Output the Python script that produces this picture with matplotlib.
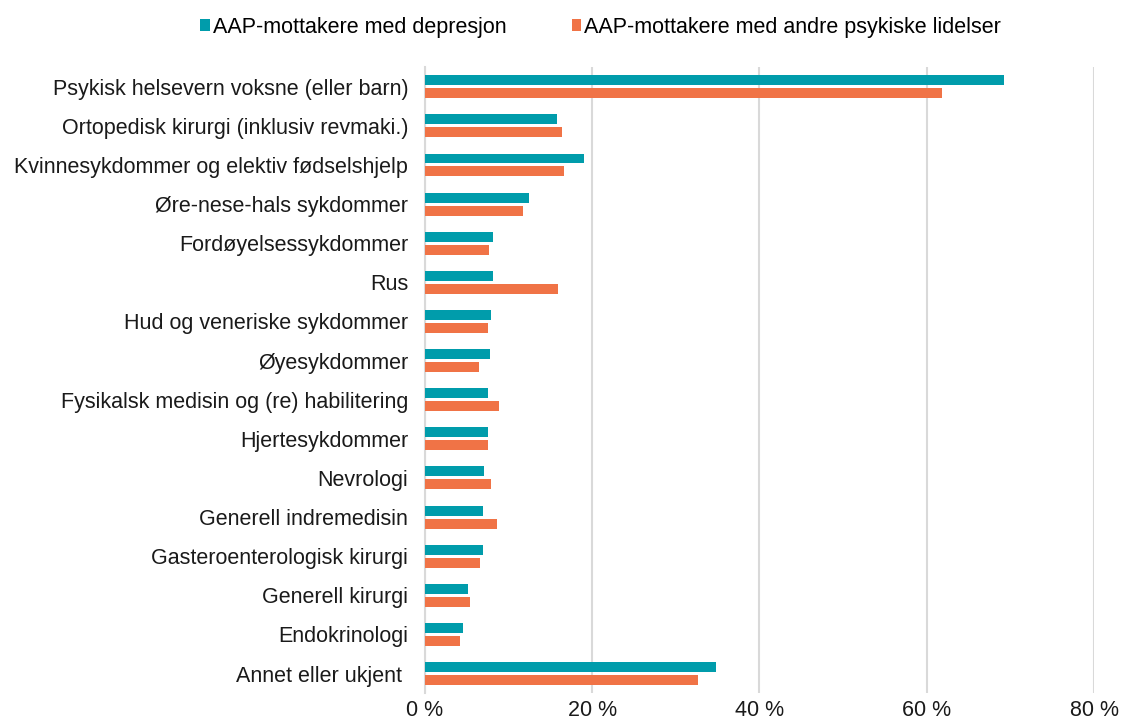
import numpy as np
import matplotlib
matplotlib.use('Agg')
import matplotlib.pyplot as plt

categories = [
    'Psykisk helsevern voksne (eller barn)',
    'Ortopedisk kirurgi (inklusiv revmaki.)',
    'Kvinnesykdommer og elektiv fødselshjelp',
    'Øre-nese-hals sykdommer',
    'Fordøyelsessykdommer',
    'Rus',
    'Hud og veneriske sykdommer',
    'Øyesykdommer',
    'Fysikalsk medisin og (re) habilitering',
    'Hjertesykdommer',
    'Nevrologi',
    'Generell indremedisin',
    'Gasteroenterologisk kirurgi',
    'Generell kirurgi',
    'Endokrinologi',
    'Annet eller ukjent ',
]
depresjon = [69.2, 15.8, 19.0, 12.5, 8.1, 8.1, 7.9, 7.8, 7.5, 7.5, 7.1, 7.0, 7.0, 5.2, 4.6, 34.8]
andre = [61.8, 16.4, 16.6, 11.7, 7.7, 15.9, 7.5, 6.5, 8.9, 7.6, 7.9, 8.6, 6.6, 5.4, 4.2, 32.6]
series_names = ['AAP-mottakere med depresjon', 'AAP-mottakere med andre psykiske lidelser']
xticks = [0, 20, 40, 60, 80]

plt.rcParams['font.family'] = ['Liberation Sans', 'DejaVu Sans']

fig = plt.figure(figsize=(11.21, 7.22), dpi=100)
ax = fig.add_axes([0.379, 0.040, 0.597, 0.867])

teal = '#009CAB'
orange = '#F07346'
y = np.arange(len(categories))
h = 0.255
ax.barh(y - 0.165, depresjon, height=h, color=teal, label=series_names[0], zorder=3)
ax.barh(y + 0.165, andre, height=h, color=orange, label=series_names[1], zorder=3)

ax.set_ylim(len(categories) - 0.5, -0.5)
ax.set_xlim(0, 80)
ax.set_yticks(y)
ax.set_yticklabels(categories, fontsize=15.5, color='#1a1a1a')
ax.set_xticks(xticks)
ax.set_xticklabels([f'{v} %' for v in xticks], fontsize=15.5, color='#1a1a1a')
ax.tick_params(axis='both', length=0)
ax.tick_params(axis='y', pad=12)
ax.tick_params(axis='x', pad=5)

for s in ['top', 'right', 'bottom']:
    ax.spines[s].set_visible(False)
ax.spines['left'].set_color('#d9d9d9')
ax.spines['left'].set_linewidth(1.5)
ax.xaxis.grid(True, color='#d9d9d9', linewidth=1.5, zorder=0)
ax.set_axisbelow(True)

fig.legend(loc='center', bbox_to_anchor=(0.536, 0.962), ncol=2, frameon=False,
           fontsize=15.5, handlelength=0.45, handleheight=0.45, handletextpad=0.15,
           columnspacing=3.0)

fig.savefig('out.png', dpi=100)
